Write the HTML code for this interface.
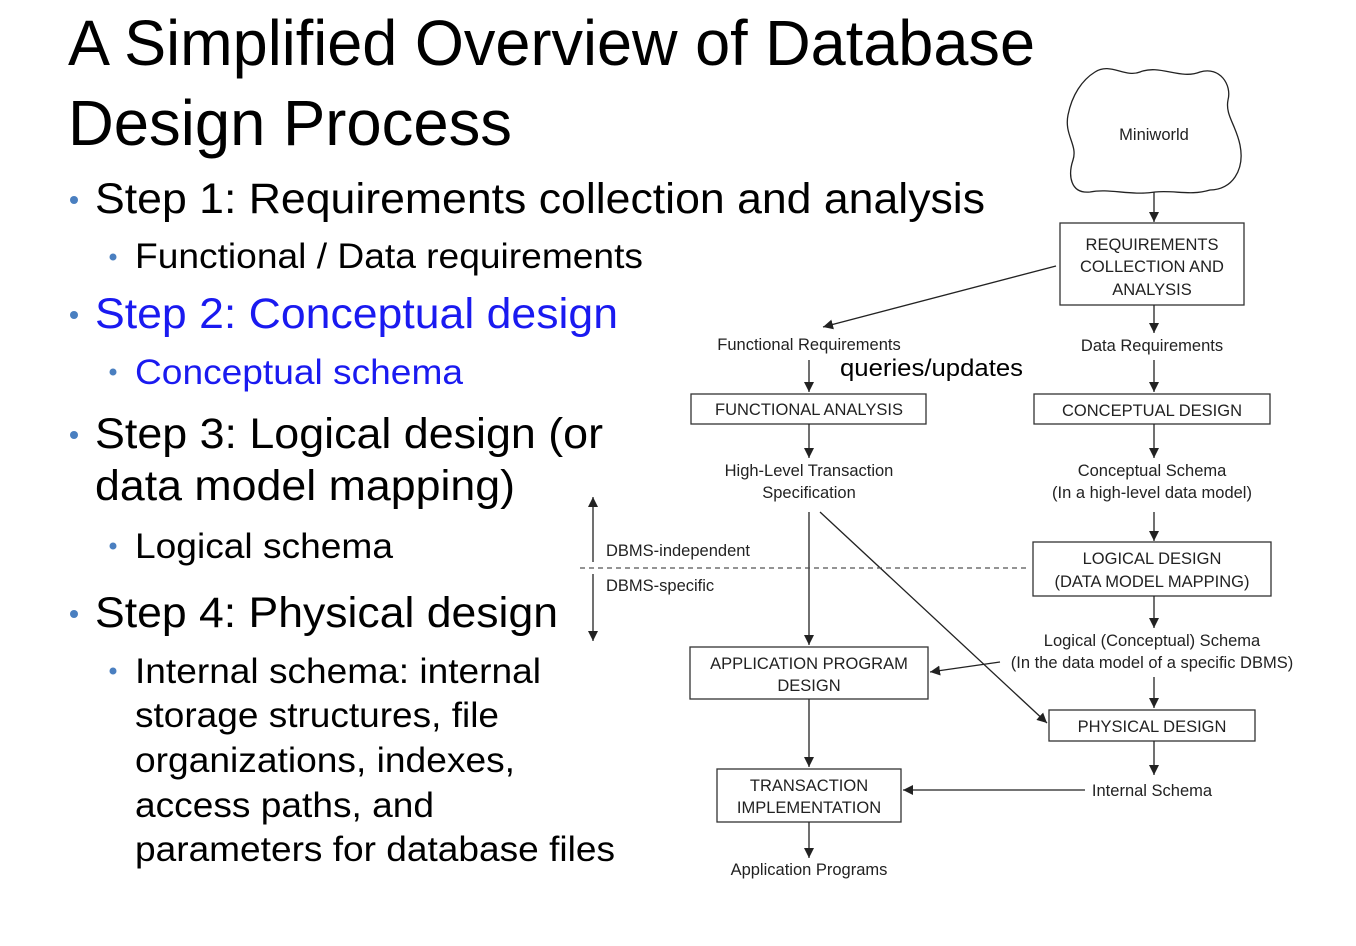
<!DOCTYPE html>
<html><head><meta charset="utf-8"><style>
body{margin:0;background:#fff}
svg{display:block;font-family:"Liberation Sans",sans-serif}
</style></head><body>
<svg width="1356" height="946" viewBox="0 0 1356 946">
<defs><marker id="a" viewBox="0 0 10 10" refX="10" refY="5" markerWidth="10" markerHeight="13" markerUnits="userSpaceOnUse" orient="auto"><path d="M0,0L10,5L0,10z" fill="#222"/></marker></defs>
<g fill="#000">
<text x="68" y="65" font-size="64" textLength="967" lengthAdjust="spacingAndGlyphs">A Simplified Overview of Database</text>
<text x="68" y="145" font-size="64" textLength="444" lengthAdjust="spacingAndGlyphs">Design Process</text>
<g font-size="43">
<text x="95" y="213" textLength="890" lengthAdjust="spacingAndGlyphs">Step 1: Requirements collection and analysis</text>
<text x="95" y="328" fill="#1a1af0" textLength="523" lengthAdjust="spacingAndGlyphs">Step 2: Conceptual design</text>
<text x="95" y="448" textLength="508" lengthAdjust="spacingAndGlyphs">Step 3: Logical design (or</text>
<text x="95" y="500" textLength="420" lengthAdjust="spacingAndGlyphs">data model mapping)</text>
<text x="95" y="627" textLength="463" lengthAdjust="spacingAndGlyphs">Step 4: Physical design</text>
</g>
<g font-size="35">
<text x="135" y="268" textLength="508" lengthAdjust="spacingAndGlyphs">Functional / Data requirements</text>
<text x="135" y="384" fill="#1a1af0" textLength="328" lengthAdjust="spacingAndGlyphs">Conceptual schema</text>
<text x="135" y="558" textLength="258" lengthAdjust="spacingAndGlyphs">Logical schema</text>
<text x="135" y="683" textLength="406" lengthAdjust="spacingAndGlyphs">Internal schema: internal</text>
<text x="135" y="727" textLength="364" lengthAdjust="spacingAndGlyphs">storage structures, file</text>
<text x="135" y="772" textLength="380" lengthAdjust="spacingAndGlyphs">organizations, indexes,</text>
<text x="135" y="817" textLength="299" lengthAdjust="spacingAndGlyphs">access paths, and</text>
<text x="135" y="861" textLength="480" lengthAdjust="spacingAndGlyphs">parameters for database files</text>
</g>
</g>
<g fill="#4a7fc0">
<circle cx="74" cy="200" r="4"/><circle cx="74" cy="315" r="4"/><circle cx="74" cy="435" r="4"/><circle cx="74" cy="614" r="4"/>
<circle cx="113" cy="257" r="3.5"/><circle cx="113" cy="372" r="3.5"/><circle cx="113" cy="546" r="3.5"/><circle cx="113" cy="671" r="3.5"/>
</g>
<path d="M1095,72 C1110,62 1125,78 1140,72 C1160,64 1180,80 1200,72 C1220,66 1232,85 1228,100 C1225,115 1236,125 1240,145 C1245,170 1232,190 1210,190 C1190,196 1175,190 1155,192 C1130,196 1110,188 1090,192 C1070,194 1068,175 1073,160 C1078,145 1064,135 1068,115 C1072,95 1082,80 1095,72z" fill="none" stroke="#222" stroke-width="1.3"/>
<g fill="none" stroke="#333" stroke-width="1.3">
<rect x="1060" y="223" width="184" height="82"/>
<rect x="691" y="394" width="235" height="30"/>
<rect x="1034" y="394" width="236" height="30"/>
<rect x="1033" y="542" width="238" height="54"/>
<rect x="690" y="647" width="238" height="52"/>
<rect x="1049" y="710" width="206" height="31"/>
<rect x="717" y="769" width="184" height="53"/>
</g>
<g stroke="#222" stroke-width="1.3" marker-end="url(#a)">
<line x1="1154" y1="192" x2="1154" y2="222"/>
<line x1="1154" y1="305" x2="1154" y2="333"/>
<line x1="1154" y1="360" x2="1154" y2="392"/>
<line x1="1056" y1="266" x2="823" y2="327"/>
<line x1="809" y1="360" x2="809" y2="392"/>
<line x1="809" y1="424" x2="809" y2="458"/>
<line x1="1154" y1="424" x2="1154" y2="458"/>
<line x1="1154" y1="512" x2="1154" y2="541"/>
<line x1="1154" y1="596" x2="1154" y2="628"/>
<line x1="1154" y1="677" x2="1154" y2="708"/>
<line x1="1154" y1="741" x2="1154" y2="775"/>
<line x1="809" y1="512" x2="809" y2="645"/>
<line x1="820" y1="512" x2="1047" y2="723"/>
<line x1="1000" y1="662" x2="930" y2="672"/>
<line x1="1085" y1="790" x2="903" y2="790"/>
<line x1="809" y1="699" x2="809" y2="767"/>
<line x1="809" y1="822" x2="809" y2="858"/>
<line x1="593" y1="562" x2="593" y2="497"/>
<line x1="593" y1="574" x2="593" y2="641"/>
</g>
<line x1="580" y1="568" x2="1030" y2="568" stroke="#555" stroke-width="1.2" stroke-dasharray="5,4"/>
<g font-size="16.5" fill="#222" text-anchor="middle">
<text x="1154" y="140">Miniworld</text>
<text x="1152" y="250">REQUIREMENTS</text>
<text x="1152" y="272">COLLECTION AND</text>
<text x="1152" y="295">ANALYSIS</text>
<text x="809" y="350">Functional Requirements</text>
<text x="1152" y="351">Data Requirements</text>
<text x="809" y="415">FUNCTIONAL ANALYSIS</text>
<text x="1152" y="416">CONCEPTUAL DESIGN</text>
<text x="809" y="476">High-Level Transaction</text>
<text x="809" y="498">Specification</text>
<text x="1152" y="476">Conceptual Schema</text>
<text x="1152" y="498">(In a high-level data model)</text>
<text x="1152" y="564">LOGICAL DESIGN</text>
<text x="1152" y="587">(DATA MODEL MAPPING)</text>
<text x="1152" y="646">Logical (Conceptual) Schema</text>
<text x="1152" y="668">(In the data model of a specific DBMS)</text>
<text x="809" y="669">APPLICATION PROGRAM</text>
<text x="809" y="691">DESIGN</text>
<text x="1152" y="732">PHYSICAL DESIGN</text>
<text x="1152" y="796">Internal Schema</text>
<text x="809" y="791">TRANSACTION</text>
<text x="809" y="813">IMPLEMENTATION</text>
<text x="809" y="875">Application Programs</text>
<text x="606" y="556" text-anchor="start">DBMS-independent</text>
<text x="606" y="591" text-anchor="start">DBMS-specific</text>
</g>
<text x="840" y="376" font-size="24" fill="#000" textLength="183" lengthAdjust="spacingAndGlyphs">queries/updates</text>
</svg>
</body></html>
